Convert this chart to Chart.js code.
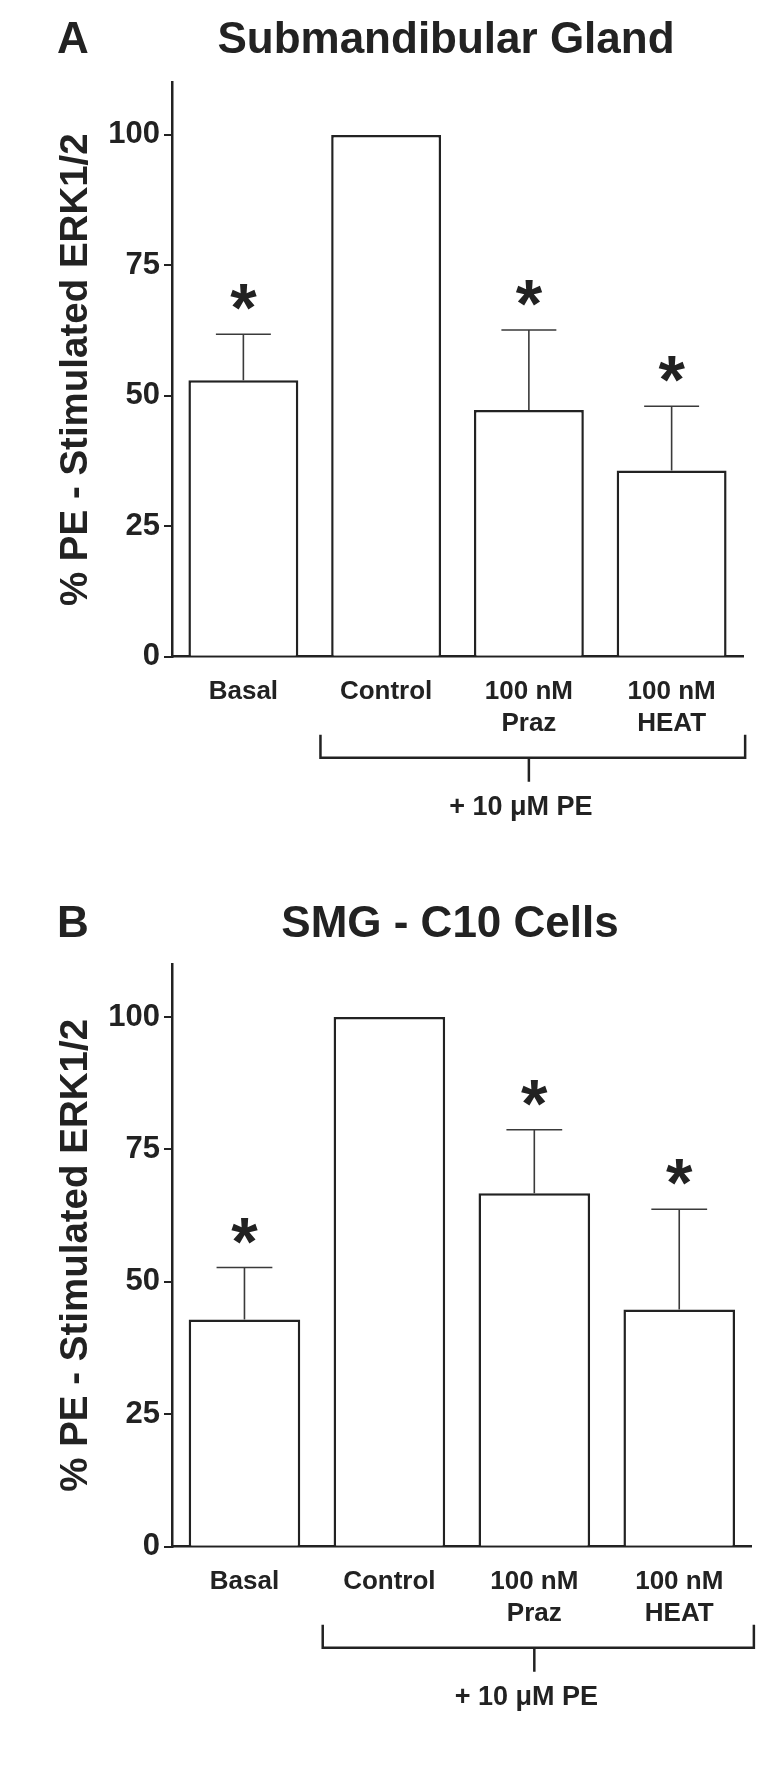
<!DOCTYPE html>
<html>
<head>
<meta charset="utf-8">
<script src="https://cdn.jsdelivr.net/npm/chart.js@4.4.1/dist/chart.umd.min.js"></script>
<style>
  html, body { margin: 0; padding: 0; background: #fff; }
  .panel { position: absolute; left: 0; width: 784px; height: 883px; }
  #panelA { top: 0; }
  #panelB { top: 883px; }
</style>
</head>
<body>
<div class="panel" id="panelA"><canvas id="chartA"></canvas></div>
<div class="panel" id="panelB"><canvas id="chartB"></canvas></div>
<script>
var categories = ['Basal', 'Control', ['100 nM', 'Praz'], ['100 nM', 'HEAT']];
var yTicks = [0, 25, 50, 75, 100];

// A - submandibular gland
var meanA = [53.0, 100, 47.3, 35.7];
var semA = [8.8, 0, 15.3, 12.3];
var starA = [true, false, true, true];

// B - SMG-C10 cells
var meanB = [42.9, 100, 66.7, 44.8];
var semB = [9.8, 0, 12.0, 18.9];
var starB = [true, false, true, true];

var INK = '#222';
var NARROW = "'Liberation Sans Narrow', 'Arial Narrow', 'Liberation Sans', Arial, sans-serif";
var WIDE = "'Liberation Sans', Arial, sans-serif";

/* error bars + asterisks */
var errorBars = {
  id: 'errorBars',
  afterDatasetsDraw: function(chart, args, opts) {
    var ctx = chart.ctx;
    var y = chart.scales.y;
    var bars = chart.getDatasetMeta(0).data;
    ctx.save();
    bars.forEach(function(bar, i) {
      var top = y.getPixelForValue(opts.mean[i] + opts.sem[i]);
      if (opts.sem[i] > 0) {
        var half = bar.width * 0.25;
        ctx.strokeStyle = '#3a3a3a';
        ctx.lineWidth = 1.6;
        ctx.beginPath();
        ctx.moveTo(bar.x, bar.y);
        ctx.lineTo(bar.x, top);
        ctx.moveTo(bar.x - half, top);
        ctx.lineTo(bar.x + half, top);
        ctx.stroke();
      }
      if (opts.stars[i]) {
        ctx.fillStyle = INK;
        ctx.font = 'bold 68px ' + WIDE;
        ctx.textAlign = 'center';
        ctx.textBaseline = 'alphabetic';
        var m = ctx.measureText('*');
        var cy = top - 37;
        ctx.fillText('*', bar.x, cy + (m.actualBoundingBoxAscent - m.actualBoundingBoxDescent) / 2);
      }
    });
    ctx.restore();
  }
};

/* panel letter, heading, and the +PE bracket */
var decorations = {
  id: 'decorations',
  afterDraw: function(chart, args, opts) {
    var ctx = chart.ctx;
    var x = chart.scales.x;
    var base = chart.scales.y.getPixelForValue(0);
    ctx.save();
    ctx.fillStyle = INK;
    ctx.textBaseline = 'alphabetic';
    ctx.font = 'bold 44px ' + WIDE;
    ctx.textAlign = 'left';
    ctx.fillText(opts.letter, 57, opts.titleBase);
    ctx.textAlign = 'center';
    ctx.fillText(opts.title, opts.titleX, opts.titleBase);

    var step = x.getPixelForValue(1) - x.getPixelForValue(0);
    var left = x.getPixelForValue(1) - 0.46 * step;
    var right = x.getPixelForValue(3) + 0.515 * step;
    var mid = x.getPixelForValue(2);
    ctx.strokeStyle = INK;
    ctx.lineWidth = 2.5;
    ctx.beginPath();
    ctx.moveTo(left, base + 78);
    ctx.lineTo(left, base + 101);
    ctx.lineTo(right, base + 101);
    ctx.lineTo(right, base + 78);
    ctx.moveTo(mid, base + 101);
    ctx.lineTo(mid, base + 125);
    ctx.stroke();

    ctx.font = 'bold 27px ' + WIDE;
    ctx.textBaseline = 'middle';
    ctx.fillText('+ 10 \u03bcM PE', mid - 8, base + 151);
    ctx.restore();
  }
};

function makeChart(id, mean, sem, stars, cfg) {
  var ctx = document.getElementById(id).getContext('2d');
  return new Chart(ctx, {
    type: 'bar',
    data: {
      labels: categories,
      datasets: [{
        data: mean,
        backgroundColor: '#fff',
        borderColor: INK,
        borderWidth: 2.5,
        barPercentage: 0.77,
        categoryPercentage: 1
      }]
    },
    options: {
      responsive: true,
      maintainAspectRatio: false,
      animation: false,
      layout: { padding: { left: 0, top: cfg.padTop, right: cfg.padRight, bottom: 0 } },
      plugins: {
        legend: { display: false },
        tooltip: { enabled: false },
        errorBars: { mean: mean, sem: sem, stars: stars },
        decorations: cfg
      },
      scales: {
        x: {
          grid: { display: false, drawTicks: false },
          border: { display: true, color: INK, width: 2.5 },
          ticks: {
            padding: 20, color: INK, maxRotation: 0, autoSkip: false,
            font: { family: WIDE, size: 26, weight: 'bold', lineHeight: 1.2 }
          },
          afterFit: function(scale) { scale.height = 883 - cfg.axisBottom; }
        },
        y: {
          min: 0,
          max: 110,
          afterBuildTicks: function(scale) {
            scale.ticks = yTicks.map(function(v) { return { value: v }; });
          },
          grid: { drawOnChartArea: false, drawTicks: true, tickLength: 8, color: INK, lineWidth: 2 },
          border: { display: true, color: INK, width: 2.5 },
          ticks: { padding: 4, color: INK, font: { family: NARROW, size: 31, weight: 'bold' } },
          title: {
            display: true, text: '% PE - Stimulated ERK1/2', color: INK,
            font: { family: WIDE, size: 38.5, weight: 'bold' }, padding: { top: 53 }
          },
          afterFit: function(scale) { scale.width = 172; }
        }
      }
    },
    plugins: [errorBars, decorations]
  });
}

makeChart('chartA', meanA, semA, starA, {
  letter: 'A', title: 'Submandibular Gland', titleX: 446, titleBase: 53,
  padTop: 82.7, padRight: 41, axisBottom: 656.7
});
makeChart('chartB', meanB, semB, starB, {
  letter: 'B', title: 'SMG - C10 Cells', titleX: 450, titleBase: 54,
  padTop: 81, padRight: 32.3, axisBottom: 663.7
});
</script>
</body>
</html>
